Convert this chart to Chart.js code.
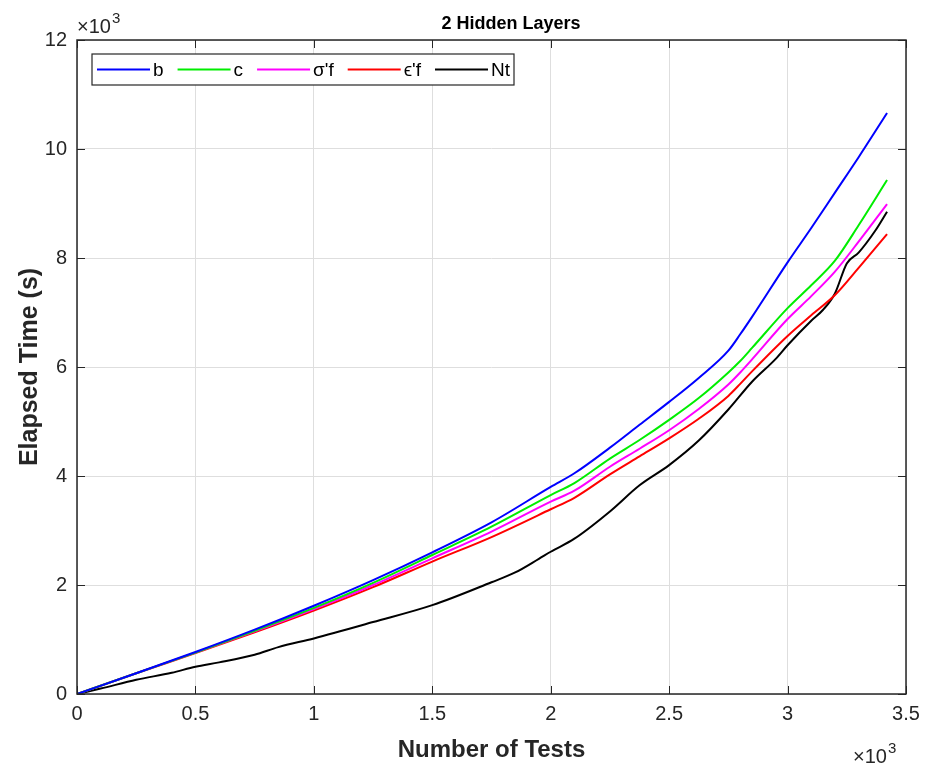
<!DOCTYPE html>
<html>
<head>
<meta charset="utf-8">
<script src="https://cdn.jsdelivr.net/npm/chart.js@4"></script>
<style>
  html, body { margin: 0; padding: 0; background: #ffffff; }
  #wrap { width: 938px; height: 765px; position: relative; }
</style>
</head>
<body>
<div id="wrap"><canvas id="c" width="938" height="765"></canvas></div>
<script>
// ---- Data (x in number of tests, y in seconds) ----
const tests = [0,250,500,750,1000,1250,1500,1750,2000,2100,2250,2375,2500,2625,2750,2800,2850,3000,3100,3200,3300,3420];
const timeB = [0,380,770,1180,1620,2090,2600,3150,3800,4050,4520,4940,5360,5800,6300,6600,6920,7920,8550,9200,9850,10660];
const timeC = [0,380,760,1160,1580,2040,2550,3070,3650,3870,4320,4660,5030,5430,5900,6110,6350,7080,7500,7950,8600,9430];
const timeSigmaF = [0,380,760,1150,1560,2000,2490,2980,3530,3730,4170,4500,4840,5230,5680,5900,6140,6880,7300,7750,8300,8990];
const timeEpsF = [0,380,750,1130,1530,1960,2430,2880,3390,3600,4030,4360,4690,5050,5470,5690,5920,6570,6950,7320,7820,8440];
const testsNt = [0,100,250,400,500,600,750,850,1000,1250,1500,1750,1850,1950,2000,2100,2250,2375,2500,2625,2750,2850,2950,3000,3100,3150,3200,3250,3300,3370,3420];
const timeNt = [0,100,260,390,500,580,720,860,1020,1320,1630,2050,2230,2480,2610,2850,3350,3830,4200,4650,5220,5730,6150,6400,6850,7050,7350,7900,8100,8500,8850];
const seriesLabels = ["b", "c", "\u03C3'f", "\u03F5'f", "Nt"];
const seriesColors = ["#0000ff", "#00ee00", "#ff00ff", "#ff0000", "#000000"];
const xTicksMax = 3500, xStep = 500;
const yTicksMax = 12000, yStep = 2000;
const titleText = "2 Hidden Layers";
const xTitle = "Number of Tests";
const yTitle = "Elapsed Time (s)";

const pts = (xs, ys) => xs.map((x, i) => ({x: x, y: ys[i]}));
const ySets = [timeB, timeC, timeSigmaF, timeEpsF, timeNt];
const xSets = [tests, tests, tests, tests, testsNt];

const FONT = "'Liberation Sans', Arial, sans-serif";

const decor = {
  id: 'decor',
  afterDraw(chart) {
    const ctx = chart.ctx;
    const a = chart.chartArea;
    const xs = chart.scales.x, ys = chart.scales.y;
    ctx.save();
    // inward ticks
    ctx.strokeStyle = '#262626';
    ctx.lineWidth = 1;
    ctx.beginPath();
    for (let v = 0; v <= xTicksMax; v += xStep) {
      const px = Math.round(xs.getPixelForValue(v)) + 0.5;
      ctx.moveTo(px, a.bottom); ctx.lineTo(px, a.bottom - 8);
      ctx.moveTo(px, a.top); ctx.lineTo(px, a.top + 8);
    }
    for (let v = 0; v <= yTicksMax; v += yStep) {
      const py = Math.round(ys.getPixelForValue(v)) + 0.5;
      ctx.moveTo(a.left, py); ctx.lineTo(a.left + 8, py);
      ctx.moveTo(a.right, py); ctx.lineTo(a.right - 8, py);
    }
    ctx.stroke();
    // box
    ctx.lineWidth = 1.5;
    ctx.strokeRect(a.left, a.top, a.right - a.left, a.bottom - a.top);

    // title
    ctx.fillStyle = '#000';
    ctx.font = "bold 18px " + FONT;
    ctx.textAlign = 'center';
    ctx.textBaseline = 'alphabetic';
    ctx.fillText(titleText, 511, 29);

    // axis titles
    ctx.fillStyle = '#262626';
    ctx.font = "bold 24px " + FONT;
    ctx.fillText(xTitle, (a.left + a.right) / 2, 757);
    ctx.save();
    ctx.translate(37, (a.top + a.bottom) / 2);
    ctx.rotate(-Math.PI / 2);
    ctx.font = "bold 25px " + FONT;
    ctx.fillText(yTitle, 0, 0);
    ctx.restore();

    // exponent labels
    ctx.textAlign = 'left';
    ctx.font = "20px " + FONT;
    ctx.fillText("\u00D710", 77, 33);
    let w = ctx.measureText("\u00D710").width;
    ctx.font = "15px " + FONT;
    ctx.fillText("3", 77 + w + 1, 23);
    ctx.font = "20px " + FONT;
    ctx.fillText("\u00D710", 853, 763);
    w = ctx.measureText("\u00D710").width;
    ctx.font = "15px " + FONT;
    ctx.fillText("3", 853 + w + 1, 753);

    // legend
    const lx = 92, ly = 54, lh = 31;
    ctx.font = "19px " + FONT;
    let x = 97;
    const items = chart.data.datasets.map(d => ({label: d.label, color: d.borderColor}));
    const positions = [];
    items.forEach(it => {
      positions.push(x);
      x += 53 + 3 + ctx.measureText(it.label).width + 14;
    });
    const lw = x - 14 + 4 - lx;
    ctx.fillStyle = '#fff';
    ctx.fillRect(lx, ly, lw, lh);
    ctx.strokeStyle = '#262626';
    ctx.lineWidth = 1.2;
    ctx.strokeRect(lx, ly, lw, lh);
    items.forEach((it, i) => {
      const px = positions[i];
      const cy = ly + lh / 2;
      ctx.strokeStyle = it.color;
      ctx.lineWidth = 2;
      ctx.beginPath();
      ctx.moveTo(px, cy); ctx.lineTo(px + 53, cy);
      ctx.stroke();
      ctx.fillStyle = '#000';
      ctx.textBaseline = 'middle';
      ctx.fillText(it.label, px + 56, cy + 1);
    });
    ctx.restore();
  }
};

new Chart(document.getElementById('c'), {
  type: 'line',
  data: {
    datasets: seriesLabels.map((lab, i) => ({
      label: lab,
      data: pts(xSets[i], ySets[i]),
      borderColor: seriesColors[i],
      backgroundColor: seriesColors[i],
      borderWidth: 2,
      pointRadius: 0,
      cubicInterpolationMode: 'monotone',
      fill: false
    }))
  },
  options: {
    responsive: false,
    animation: false,
    layout: { padding: { top: 40, right: 32, left: 0, bottom: 0 } },
    plugins: { legend: { display: false }, title: { display: false }, tooltip: { enabled: false } },
    scales: {
      x: {
        type: 'linear', min: 0, max: xTicksMax,
        ticks: { stepSize: xStep, color: '#262626', font: { family: FONT, size: 20 }, padding: 8, maxRotation: 0,
                 callback: v => String(v / 1000) },
        grid: { color: '#dedede', drawTicks: false },
        border: { display: false },
        afterFit: s => { s.height = 71; }
      },
      y: {
        type: 'linear', min: 0, max: yTicksMax,
        ticks: { stepSize: yStep, color: '#262626', font: { family: FONT, size: 20 }, padding: 10,
                 callback: v => String(v / 1000) },
        grid: { color: '#dedede', drawTicks: false },
        border: { display: false },
        afterFit: s => { s.width = 77; }
      }
    }
  },
  plugins: [decor]
});
</script>
</body>
</html>
